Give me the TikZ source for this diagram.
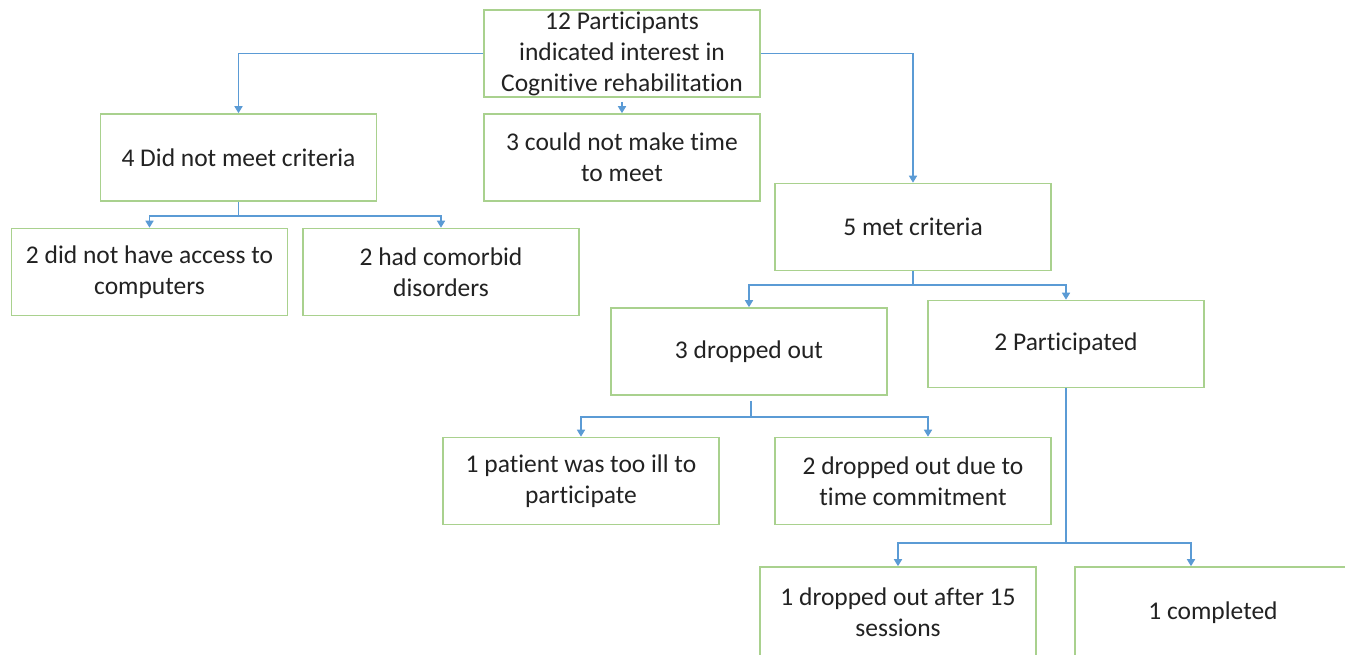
\documentclass[tikz,border=0pt]{standalone}
\usepackage{fontspec}
\setmainfont{Carlito}[Ligatures=NoCommon]
\usetikzlibrary{arrows.meta,calc}
\definecolor{boxgreen}{HTML}{A9D18E}
\definecolor{lineblue}{HTML}{5B9BD5}
\definecolor{txt}{HTML}{222222}
\begin{document}
\begin{tikzpicture}[x=1pt,y=-1pt,
  box/.style={draw=boxgreen,line width=1.6pt,fill=white,rectangle,
    minimum width=276pt,minimum height=87pt,inner sep=0pt,align=center,
    text=txt,font=\fontsize{25.5}{31}\selectfont},
  tallbox/.style={box,minimum height=91pt},
  link/.style={draw=lineblue,line width=1.6pt},
  arr/.style={link,-{Triangle[width=8pt,length=7pt]}}]
\useasboundingbox (0,0) rectangle (1345,654);
\clip (0,0) rectangle (1345,654);
\fill[white] (0,0) rectangle (1345,654);

% nodes
\node[box] (top) at (622,53.5) {12 Participants\\indicated interest in\\Cognitive rehabilitation};
\node[box] (dnm) at (238.5,157.5) {4 Did not meet criteria};
\node[box] (cnm) at (622,157.5) {3 could not make time\\to meet};
\node[box] (met) at (913,227) {5 met criteria};
\node[box] (acc) at (149.5,272) {2 did not have access to\\computers};
\node[box] (com) at (441,272) {2 had comorbid\\disorders};
\node[box] (drop) at (749,351.5) {3 dropped out};
\node[box] (part) at (1066,344) {2 Participated};
\node[box] (ill) at (581,481) {1 patient was too ill to\\participate};
\node[box] (time) at (913,481) {2 dropped out due to\\time commitment};
\node[tallbox] (d15) at (898,612.5) {1 dropped out after 15\\sessions};
\node[tallbox] (comp) at (1213,612.5) {1 completed};

% junction coordinates
\coordinate (j1) at (238.5,216);
\coordinate (j2) at (913,285);
\coordinate (j3) at (751,417);
\coordinate (j4) at (1066,543);

% connectors
\draw[arr] (top.west) -| (dnm.north);
\draw[arr] (top.east) -| (met.north);
\draw[arr] ([yshift=-4pt]top.south) -- (cnm.north);

\draw[link] (dnm.south) -- (j1);
\draw[arr] (j1) -| (acc.north);
\draw[arr] (j1) -| (com.north);

\draw[link] (met.south) -- (j2);
\draw[arr] (j2) -| (drop.north);
\draw[arr] (j2) -| (part.north);

\draw[link] ([xshift=2pt,yshift=-5pt]drop.south) -- (j3);
\draw[arr] (j3) -| (ill.north);
\draw[arr] (j3) -| ([xshift=15pt]time.north);

\draw[link,line width=2.2pt] (part.south) -- (j4);
\draw[arr] (j4) -| (d15.north);
\draw[arr] (j4) -| ([xshift=-22pt]comp.north);
\end{tikzpicture}
\end{document}
